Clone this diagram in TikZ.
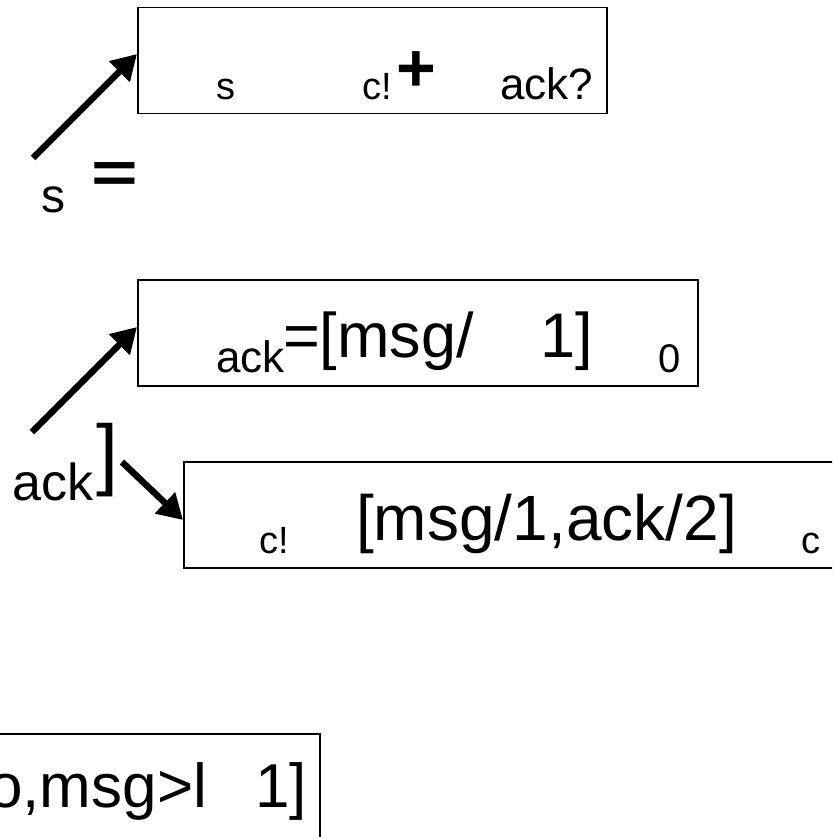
\documentclass[tikz,border=0pt]{standalone}
\usepackage{fontspec}
\setmainfont{Liberation Sans}
\usetikzlibrary{arrows.meta}
\newcommand\setfs[1]{\fontsize{#1}{#1}\selectfont}
\begin{document}
\begin{tikzpicture}[x=1pt,y=-1pt,
  box/.style={draw, line width=1.5pt, inner sep=0pt, anchor=north west},
  txt/.style={inner sep=0pt, anchor=base west},
  arr/.style={line width=6.5pt, -{Triangle[length=25pt,width=28pt]}}]
\useasboundingbox (0,0) rectangle (832,837);
\clip (0,0) rectangle (832,837);
\fill[white] (0,0) rectangle (832,837);
% boxes
\node[box, minimum width=469pt, minimum height=106pt] (b1) at (137,7) {};
\node[box, minimum width=560pt, minimum height=106pt] (b2) at (137,279) {};
\node[box, minimum width=680pt, minimum height=106pt] (b3) at (183,461) {};
\node[box, minimum width=345pt, minimum height=130pt] (b4) at (-26,733) {};
% box 1 texts
\node[txt] (t1a) at (216,100) {\setfs{38}s};
\node[txt] (t1b) at (362,100) {\setfs{38}c!};
\node[txt] (t1c) at (396,92) {\setfs{68}\bfseries +};
\node[txt] (t1d) at (500,100) {\setfs{44}ack?};
% top left
\node[txt] (ls) at (41,212) {\setfs{48}s};
\node[txt] (leq) at (91,193) {\setfs{80}\bfseries\scalebox{1}[0.72]{=}};
% box 2 texts
\node[txt] (t2a) at (216,372) {\setfs{44}ack};
\node[txt] (t2b) at (283,357) {\setfs{63}=[msg/};
\node[txt] (t2c) at (540,357) {\setfs{63}1]};
\node[txt] (t2d) at (658,372) {\setfs{40}0};
% middle left
\node[txt] (lack) at (12,500) {\setfs{52}ack};
\node[txt] (lbr) at (96,480) {\setfs{79}]};
% box 3 texts
\node[txt] (t3a) at (259,553) {\setfs{38}c!};
\node[txt] (t3b) at (356,540) {\setfs{64}[msg/1,ack/2]};
\node[txt] (t3c) at (801,553) {\setfs{38}c};
% box 4 texts
\node[txt] (t4a) at (-12,807) {\setfs{62}o,msg>l};
\node[txt] (t4b) at (255,807) {\setfs{62}1]};
% arrows
\coordinate (s1) at (33,158);
\coordinate (e1) at (137,54);
\coordinate (s2) at (32,432);
\coordinate (e2) at (137,327);
\coordinate (s3) at (122,462);
\coordinate (e3) at (183,520);
\draw[arr] (s1) -- (e1);
\draw[arr] (s2) -- (e2);
\draw[arr] (s3) -- (e3);
\end{tikzpicture}
\end{document}
